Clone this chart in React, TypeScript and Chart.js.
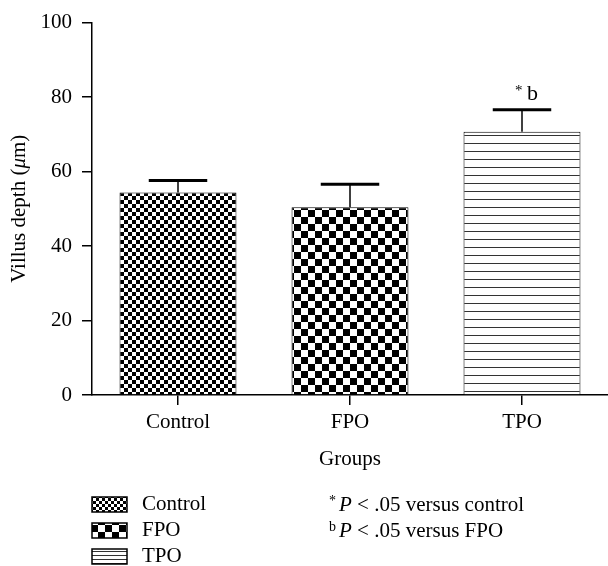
import React, { useEffect, useRef } from 'react';
import { Chart, registerables } from 'chart.js';

Chart.register(...registerables);

const categories = ['Control', 'FPO', 'TPO'];
const means = [54.4, 50.4, 70.7];
const errors = [3.2, 6.2, 5.9];
const annotations = ['', '', 'b'];
const yMin = 0;
const yMax = 100;
const yStep = 20;
const yTitleMain = 'Villus depth (';
const yTitleItalic = 'μ';
const yTitleEnd = 'm)';
const xTitle = 'Groups';
const legendLabels = ['Control', 'FPO', 'TPO'];
const noteMarks = ['*', 'b'];
const noteRest = [' < .05 versus control', ' < .05 versus FPO'];

const FONT = '"Liberation Serif", "Times New Roman", serif';

function makePattern(kind: string, scale: number): CanvasPattern | string {
  const c = document.createElement('canvas');
  const g = c.getContext('2d');
  if (!g) return '#888';
  if (kind === 'fine' || kind === 'coarse') {
    const s = kind === 'fine' ? 4 * scale : 7;
    const si = Math.max(2, Math.round(s));
    c.width = si * 2;
    c.height = si * 2;
    g.fillStyle = '#fff';
    g.fillRect(0, 0, si * 2, si * 2);
    g.fillStyle = '#000';
    g.fillRect(0, 0, si, si);
    g.fillRect(si, si, si, si);
  } else {
    const sp = scale < 1 ? 4 : 8;
    c.width = 8;
    c.height = sp;
    g.fillStyle = '#fff';
    g.fillRect(0, 0, 8, sp);
    g.fillStyle = '#333';
    g.fillRect(0, sp - 1, 8, 1);
  }
  const p = g.createPattern(c, 'repeat');
  return p || '#888';
}

const patternKinds = ['fine', 'coarse', 'lines'];

export default function App() {
  const ref = useRef<HTMLCanvasElement | null>(null);

  useEffect(() => {
    if (!ref.current) return;
    const patterns = patternKinds.map((k) => makePattern(k, 1));
    const legendPatterns = patternKinds.map((k) => makePattern(k, 0.75));

    const overlay = {
      id: 'overlay',
      afterDatasetsDraw(chart: any) {
        const ctx = chart.ctx as CanvasRenderingContext2D;
        const meta = chart.getDatasetMeta(0);
        const ys = chart.scales.y;
        ctx.save();
        ctx.strokeStyle = '#000';
        ctx.fillStyle = '#000';
        meta.data.forEach((bar: any, i: number) => {
          const p = bar.getProps(['x', 'y', 'width'], true);
          const top = ys.getPixelForValue(means[i] + errors[i]);
          ctx.lineWidth = 1.5;
          ctx.beginPath();
          ctx.moveTo(p.x, p.y);
          ctx.lineTo(p.x, top);
          ctx.stroke();
          ctx.lineWidth = 3;
          ctx.beginPath();
          ctx.moveTo(p.x - p.width / 4, top);
          ctx.lineTo(p.x + p.width / 4, top);
          ctx.stroke();
          if (annotations[i]) {
            ctx.textAlign = 'left';
            ctx.textBaseline = 'alphabetic';
            ctx.font = `15px ${FONT}`;
            ctx.fillText('*', p.x - 7, top - 15);
            ctx.font = `22px ${FONT}`;
            ctx.fillText(annotations[i], p.x + 5, top - 10);
          }
        });
        ctx.restore();
      },
      afterDraw(chart: any) {
        const ctx = chart.ctx as CanvasRenderingContext2D;
        const area = chart.chartArea;
        ctx.save();
        ctx.fillStyle = '#000';
        // y title
        ctx.save();
        ctx.translate(19, (area.top + area.bottom) / 2);
        ctx.rotate(-Math.PI / 2);
        ctx.textBaseline = 'middle';
        ctx.textAlign = 'left';
        ctx.font = `21px ${FONT}`;
        const w1 = ctx.measureText(yTitleMain).width;
        const w3 = ctx.measureText(yTitleEnd).width;
        ctx.font = `italic 21px ${FONT}`;
        const w2 = ctx.measureText(yTitleItalic).width;
        const x0 = -(w1 + w2 + w3) / 2;
        ctx.font = `21px ${FONT}`;
        ctx.fillText(yTitleMain, x0, 0);
        ctx.font = `italic 21px ${FONT}`;
        ctx.fillText(yTitleItalic, x0 + w1, 0);
        ctx.font = `21px ${FONT}`;
        ctx.fillText(yTitleEnd, x0 + w1 + w2, 0);
        ctx.restore();

        // x title
        ctx.font = `21px ${FONT}`;
        ctx.textAlign = 'center';
        ctx.textBaseline = 'middle';
        ctx.fillText(xTitle, (area.left + area.right) / 2, 459);

        // legend
        const rows = [504, 530, 556];
        legendLabels.forEach((lab, i) => {
          const cy = rows[i];
          ctx.fillStyle = legendPatterns[i] as any;
          ctx.fillRect(92, cy - 7, 35, 15);
          ctx.strokeStyle = '#000';
          ctx.lineWidth = 1.5;
          ctx.strokeRect(92, cy - 7, 35, 15);
          ctx.fillStyle = '#000';
          ctx.textAlign = 'left';
          ctx.textBaseline = 'middle';
          ctx.font = `21px ${FONT}`;
          ctx.fillText(lab, 142, cy);
        });

        // notes
        noteMarks.forEach((m, i) => {
          const cy = rows[i];
          ctx.fillStyle = '#000';
          ctx.textAlign = 'left';
          ctx.textBaseline = 'alphabetic';
          const base = cy + 7;
          ctx.font = `14px ${FONT}`;
          ctx.fillText(m, 329, base - 6);
          ctx.font = `italic 21px ${FONT}`;
          ctx.fillText('P', 339, base);
          const wp = ctx.measureText('P').width;
          ctx.font = `21px ${FONT}`;
          ctx.fillText(noteRest[i], 339 + wp, base);
        });
        ctx.restore();
      },
    };

    const chart = new Chart(ref.current, {
      type: 'bar',
      data: {
        labels: categories,
        datasets: [
          {
            data: means,
            backgroundColor: patterns as any,
            borderColor: '#000',
            borderWidth: 1,
            barPercentage: 0.68,
            categoryPercentage: 1,
          },
        ],
      },
      options: {
        responsive: false,
        animation: false,
        devicePixelRatio: 1,
        layout: { padding: { top: 20, right: 0, left: 0, bottom: 0 } },
        plugins: {
          legend: { display: false },
          tooltip: { enabled: false },
        },
        scales: {
          x: {
            offset: true,
            grid: {
              display: true,
              offset: false,
              drawOnChartArea: false,
              drawTicks: true,
              tickLength: 10,
              color: '#000',
              lineWidth: 1.5,
            },
            border: { display: true, color: '#000', width: 1.5 },
            ticks: {
              color: '#000',
              font: { family: FONT, size: 21 },
              padding: 5,
              maxRotation: 0,
            },
            afterFit(scale: any) {
              scale.height = 171;
            },
          },
          y: {
            min: yMin,
            max: yMax,
            grid: {
              display: true,
              drawOnChartArea: false,
              drawTicks: true,
              tickLength: 10,
              color: '#000',
              lineWidth: 1.5,
            },
            border: { display: true, color: '#000', width: 1.5 },
            ticks: {
              stepSize: yStep,
              color: '#000',
              font: { family: FONT, size: 21 },
              padding: 10,
            },
            afterFit(scale: any) {
              scale.width = 92;
            },
          },
        },
      },
      plugins: [overlay],
    });
    return () => chart.destroy();
  }, []);

  return (
    <div style={{ position: 'fixed', left: 0, top: 0, width: 608, height: 566, background: '#fff' }}>
      <canvas ref={ref} width={608} height={566} style={{ width: 608, height: 566 }} />
    </div>
  );
}
